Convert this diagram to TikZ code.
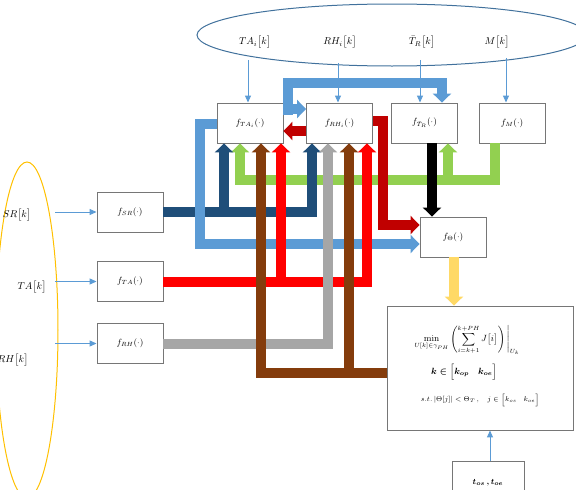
\documentclass[tikz,border=0pt]{standalone}
\usepackage{amsmath}
\usepackage{amssymb}
\usetikzlibrary{arrows.meta,shapes.geometric}
\definecolor{lb}{HTML}{5B9BD5}
\definecolor{db}{HTML}{1F4E79}
\definecolor{rd}{HTML}{FF0000}
\definecolor{drd}{HTML}{C00000}
\definecolor{gr}{HTML}{92D050}
\definecolor{br}{HTML}{843C0C}
\definecolor{gy}{HTML}{A6A6A6}
\definecolor{yl}{HTML}{FFD966}
\definecolor{ellblue}{HTML}{41719C}
\definecolor{gold}{HTML}{FFC000}
\definecolor{boxgray}{HTML}{767676}
\begin{document}
\begin{tikzpicture}[x=1pt,y=-1pt,
  fbox/.style={draw=boxgray, line width=0.9pt, fill=white, minimum width=66pt, minimum height=40pt, inner sep=0pt, font=\small},
  bigline/.style={line width=10pt},
  bighead/.style={-{Triangle[width=18pt,length=9pt]}},
  thinarr/.style={draw=lb, line width=1pt, -{Triangle[width=6pt,length=7pt]}},
  lbl/.style={inner sep=0pt, font=\normalsize}
]
\useasboundingbox (0,0) rectangle (576,490);

% ellipses
\node[draw=ellblue, line width=1pt, ellipse, minimum width=390pt, minimum height=62pt, inner sep=0pt] (topell) at (392,35) {};
\node[draw=gold, line width=1pt, ellipse, minimum width=62pt, minimum height=336pt, inner sep=0pt] (leftell) at (27,330) {};

% labels in ellipses
\node[lbl] (lTAi) at (255,42) {$TA_i\big[k\big]$};
\node[lbl] (lRHi) at (340,42) {$RH_i\big[k\big]$};
\node[lbl] (lTR) at (422,42) {$\bar{T}_R\big[k\big]$};
\node[lbl] (lM) at (497,42) {$M\big[k\big]$};
\node[lbl] (lSR) at (17,215) {$SR\big[k\big]$};
\node[lbl] (lTA) at (32,287) {$TA\big[k\big]$};
\node[lbl] (lRH) at (13,360) {$RH\big[k\big]$};

% function boxes
\node[fbox] (fTAi) at (250,123) {$f_{TA_i}(\cdot)$};
\node[fbox] (fRHi) at (339.5,123) {$f_{RH_i}(\cdot)$};
\node[fbox] (fTR) at (424.5,123) {$f_{\bar{T}_R}(\cdot)$};
\node[fbox] (fM) at (512,123) {$f_{M}(\cdot)$};
\node[fbox] (fSR) at (130,212) {$f_{SR}(\cdot)$};
\node[fbox] (fTA) at (130,281.5) {$f_{TA}(\cdot)$};
\node[fbox] (fRH) at (130,343.5) {$f_{RH}(\cdot)$};
\node[fbox] (fTh) at (453,237) {$f_{\Theta}(\cdot)$};
\node[fbox, minimum width=186pt, minimum height=124pt] (opt) at (480,368) {};
\node[fbox, minimum width=72pt] (tbox) at (488,481) {};

% optimisation text
\node[lbl, font=\small] (o1) at (467,340) {$\displaystyle \min_{U[k]\in\gamma_{PH}}\left(\sum_{i=k+1}^{k+PH} J\big[i\big]\right)\Bigg|_{U_k}$};
\node[lbl, font=\small] (o2) at (464,372) {$\boldsymbol{k\in\Big[k_{op}\quad k_{oe}\Big]}$};
\node[lbl, font=\scriptsize] (o3) at (480,400) {$s.t.\left|\Theta[j]\right|<\Theta_T\,,\quad j\in\Big[k_{os}\quad k_{oe}\Big]$};
\node[lbl, font=\footnotesize] (tl) at (488,483) {$\boldsymbol{t_{os}\,,t_{oe}}$};

% thick connectors
\draw[gr, bigline, bighead] ([xshift=-17pt]fM.south) |- (240,180) -- ([xshift=-10pt]fTAi.south);
\draw[gr, bigline, bighead] (448,180) -- ([xshift=23.5pt]fTR.south);

\draw[db, bigline, bighead] (fSR.east) -| ([xshift=-27.5pt]fRHi.south);
\draw[db, bigline, bighead] (224,212) -- ([xshift=-26pt]fTAi.south);

\draw[lb, bigline, bighead] ([yshift=-1pt]fTAi.west) -| (200,244) -- ([yshift=-7pt]fTh.west);
\coordinate (lbt) at (288,115);
\draw[lb, bigline, bighead] (lbt) |- (442,83) -- ([xshift=17.5pt]fTR.north);
\draw[lb, bigline, bighead] (286,109) -- ([yshift=14pt]fRHi.west);

\draw[rd, bigline, bighead] (fTA.east) -| ([xshift=27.5pt]fRHi.south);
\draw[rd, bigline, bighead] (281,282) -- ([xshift=31pt]fTAi.south);

\draw[gy, bigline, bighead] (fRH.east) -| ([xshift=-11.5pt]fRHi.south);

\draw[br, bigline, bighead] ([yshift=-5pt]opt.west) -| ([xshift=11pt]fTAi.south);
\draw[br, bigline, bighead] (349,373) -- ([xshift=9.5pt]fRHi.south);

\draw[drd, bigline, bighead] ([yshift=-8pt]fRHi.west) -- ([yshift=-8pt]fTAi.east);
\draw[drd, bigline, bighead] ([yshift=2pt]fRHi.east) -| (383,225) -- ([yshift=12pt]fTh.west);

\draw[black, bigline, bighead] ([xshift=7.5pt]fTR.south) -- ([xshift=-21pt]fTh.north);
\draw[yl, bigline, bighead] ([xshift=1pt]fTh.south) -- ([xshift=1pt]opt.north -| fTh.south);

% thin arrows
\coordinate (a1) at (248,60);
\coordinate (a2) at (338,63);
\coordinate (a3) at (420,60);
\coordinate (a4) at (506,58);
\draw[thinarr] (a1) -- (a1 |- fTAi.north);
\draw[thinarr] (a2) -- (a2 |- fRHi.north);
\draw[thinarr] (a3) -- (a3 |- fTR.north);
\draw[thinarr] (a4) -- (a4 |- fM.north);
\coordinate (b1) at (55,212);
\coordinate (b2) at (55,281.5);
\coordinate (b3) at (55,343.5);
\draw[thinarr] (b1) -- (fSR.west);
\draw[thinarr] (b2) -- (fTA.west);
\draw[thinarr] (b3) -- (fRH.west);
\draw[thinarr] ([xshift=2pt]tbox.north) -- ([xshift=2pt]tbox.north |- opt.south);
\end{tikzpicture}
\end{document}
